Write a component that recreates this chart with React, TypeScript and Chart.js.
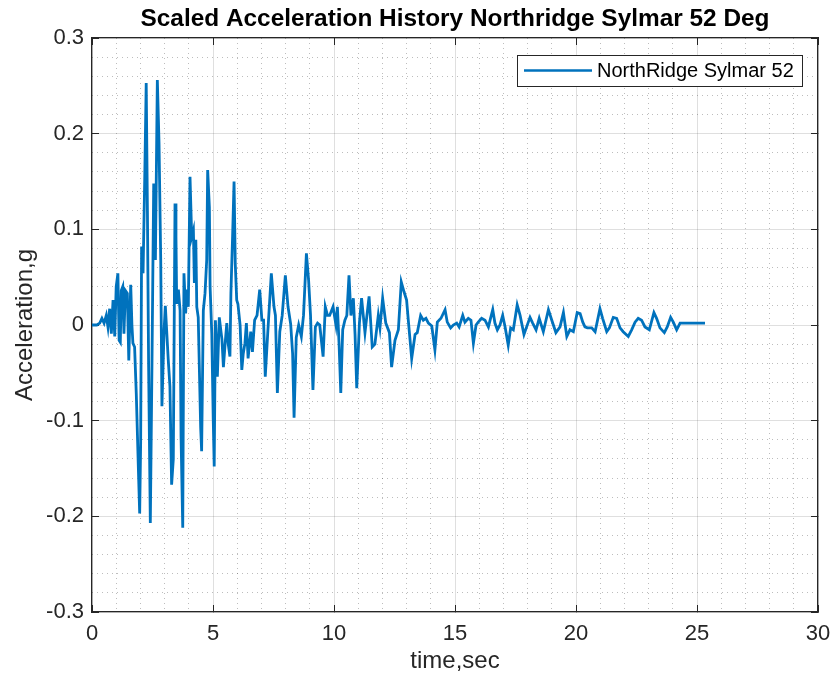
import React, { useEffect, useRef } from "react";
import { Chart, registerables } from "chart.js";

Chart.register(...registerables);

const FONT = "'Liberation Sans', Arial, Helvetica, sans-serif";
const LINE_COLOR = "#0072BD";
const AXIS_COLOR = "#262626";

const TITLE = "Scaled Acceleration History Northridge Sylmar 52 Deg";
const SERIES_LABEL = "NorthRidge Sylmar 52";
const X_LABEL = "time,sec";
const Y_LABEL = "Acceleration,g";

const X_MIN = 0;
const X_MAX = 30;
const X_MAJOR = 5;
const X_MINOR = 1;
const Y_MIN = -0.3;
const Y_MAX = 0.3;
const Y_MAJOR = 0.1;
const Y_MINOR = 0.02;

// time (s)
const TIMES = [
  0.0, 0.2, 0.32, 0.41, 0.5, 0.59, 0.66, 0.73, 0.8, 0.87, 0.94, 1.0, 1.07, 1.12, 1.17, 1.21, 1.27, 1.32, 1.38, 1.46,
  1.52, 1.6, 1.65, 1.69, 1.76, 1.83, 1.93, 1.97, 2.01, 2.05, 2.11, 2.18, 2.24, 2.29, 2.34, 2.41, 2.48, 2.55, 2.62, 2.7,
  2.77, 2.84, 2.89, 2.98, 3.03, 3.09, 3.15, 3.22, 3.29, 3.36, 3.43, 3.47, 3.5, 3.57, 3.64, 3.68, 3.75, 3.8, 3.87, 3.91,
  3.98, 4.05, 4.12, 4.19, 4.23, 4.29, 4.33, 4.39, 4.49, 4.53, 4.6, 4.67, 4.74, 4.78, 4.85, 4.88, 4.95, 5.01, 5.05, 5.1,
  5.15, 5.18, 5.26, 5.32, 5.37, 5.43, 5.5, 5.57, 5.63, 5.7, 5.74, 5.81, 5.87, 5.92, 5.98, 6.03, 6.12, 6.19, 6.25, 6.32,
  6.38, 6.45, 6.56, 6.63, 6.72, 6.82, 6.93, 7.02, 7.09, 7.16, 7.27, 7.41, 7.52, 7.58, 7.66, 7.76, 7.86, 7.99, 8.1, 8.21,
  8.29, 8.35, 8.44, 8.54, 8.65, 8.74, 8.86, 8.95, 9.03, 9.13, 9.23, 9.32, 9.41, 9.55, 9.64, 9.73, 9.82, 9.96, 10.08, 10.14,
  10.21, 10.28, 10.36, 10.45, 10.53, 10.62, 10.7, 10.8, 10.87, 10.94, 11.05, 11.14, 11.28, 11.45, 11.58, 11.69, 11.83, 11.9, 12.01, 12.14,
  12.29, 12.38, 12.52, 12.66, 12.78, 12.89, 13.0, 13.07, 13.21, 13.35, 13.44, 13.58, 13.69, 13.8, 13.9, 14.04, 14.17, 14.27, 14.42, 14.59,
  14.68, 14.82, 14.93, 15.07, 15.17, 15.32, 15.41, 15.55, 15.66, 15.76, 15.87, 15.96, 16.1, 16.24, 16.38, 16.56, 16.65, 16.75, 16.86, 16.97,
  17.07, 17.2, 17.3, 17.41, 17.57, 17.69, 17.85, 17.96, 18.1, 18.21, 18.35, 18.48, 18.65, 18.86, 19.0, 19.17, 19.34, 19.48, 19.62, 19.75,
  19.89, 20.05, 20.17, 20.28, 20.37, 20.47, 20.65, 20.79, 20.99, 21.1, 21.27, 21.38, 21.54, 21.68, 21.82, 21.95, 22.16, 22.3, 22.44, 22.57,
  22.71, 22.85, 23.03, 23.22, 23.33, 23.47, 23.65, 23.77, 23.91, 24.02, 24.16, 24.3, 24.5, 24.71, 25.33,
];

// acceleration (g)
const ACCEL = [
  0.0, 0.0, 0.002, 0.007, 0.002, 0.01, -0.002, 0.017, -0.009, 0.026, -0.012, 0.04, 0.054, -0.016, -0.018, 0.036, 0.04, -0.009, 0.036, 0.033,
  -0.037, 0.042, 0.0, -0.019, -0.023, -0.072, -0.162, -0.197, -0.124, 0.082, 0.054, 0.155, 0.253, 0.12, -0.044, -0.207, -0.036, 0.148, 0.068, 0.256,
  0.19, 0.068, -0.085, -0.005, 0.02, -0.008, -0.036, -0.064, -0.167, -0.14, 0.127, 0.092, 0.022, 0.037, 0.015, -0.117, -0.212, 0.054, 0.012, 0.037,
  0.019, 0.155, 0.092, 0.099, 0.044, 0.089, 0.019, 0.008, -0.107, -0.132, 0.015, 0.033, 0.068, 0.162, 0.123, 0.04, -0.009, -0.099, -0.148, 0.005,
  -0.03, -0.054, 0.008, -0.005, -0.015, -0.044, -0.02, 0.002, -0.02, -0.033, 0.033, 0.093, 0.15, 0.064, 0.026, 0.022, 0.0, -0.047, -0.03, -0.019,
  0.002, -0.035, -0.007, -0.028, 0.005, 0.01, 0.037, 0.005, 0.005, -0.054, -0.005, 0.054, 0.019, 0.01, -0.071, -0.007, 0.01, 0.052, 0.019, 0.001,
  -0.03, -0.097, -0.013, 0.0, -0.012, 0.01, 0.075, 0.047, 0.01, -0.068, -0.002, 0.002, 0.0, -0.033, 0.019, 0.01, 0.01, 0.019, 0.0, 0.019,
  -0.02, -0.071, -0.005, 0.005, 0.01, 0.052, 0.01, 0.028, -0.01, -0.066, 0.002, 0.028, -0.008, 0.03, -0.023, -0.02, 0.01, -0.003, 0.028, 0.002,
  -0.008, -0.044, -0.016, -0.005, 0.045, 0.035, 0.026, 0.005, -0.035, -0.01, -0.008, 0.01, 0.005, 0.007, 0.002, -0.001, -0.026, 0.003, 0.007, 0.016,
  0.003, -0.003, 0.0, 0.002, -0.002, 0.01, 0.003, 0.007, 0.005, -0.019, 0.0, 0.003, 0.007, 0.005, -0.002, 0.016, 0.002, -0.005, 0.0, 0.01,
  -0.002, -0.021, -0.003, -0.005, 0.021, 0.01, -0.01, -0.002, 0.008, 0.002, -0.005, 0.007, -0.007, 0.016, 0.005, -0.008, -0.002, 0.013, -0.012, -0.005,
  -0.007, 0.013, 0.012, 0.003, -0.002, -0.003, -0.003, -0.007, 0.017, 0.007, -0.007, -0.003, 0.008, 0.007, -0.003, -0.007, -0.012, -0.005, 0.003, 0.007,
  0.005, -0.002, -0.005, 0.013, 0.007, -0.003, -0.008, -0.002, 0.008, 0.003, -0.005, 0.002, 0.002, 0.002, 0.002,
];

const fmt = (v: number) => {
  const r = Math.round(v * 100) / 100;
  return String(r === 0 ? 0 : r);
};

const isMultiple = (v: number, step: number) => {
  const q = v / step;
  return Math.abs(q - Math.round(q)) < 1e-6;
};

const overlayPlugin = {
  id: "overlay",
  afterDraw(chart: any) {
    const { ctx, chartArea: ca } = chart;
    ctx.save();
    // title
    ctx.font = `bold 24.4px ${FONT}`;
    ctx.fillStyle = "#000";
    ctx.textAlign = "center";
    ctx.textBaseline = "middle";
    ctx.fillText(TITLE, (ca.left + ca.right) / 2, 19);

    // legend box
    const label = chart.data.datasets[0].label;
    ctx.font = `20px ${FONT}`;
    const tw = ctx.measureText(label).width;
    const h = 31;
    const w = Math.round(7 + 68 + 5 + tw + 8);
    const right = Math.round(ca.right - 16);
    const top = Math.round(ca.top + 17);
    const left = right - w;
    ctx.fillStyle = "#fff";
    ctx.fillRect(left, top, w, h);
    ctx.strokeStyle = AXIS_COLOR;
    ctx.lineWidth = 1;
    ctx.strokeRect(left + 0.5, top + 0.5, w, h);
    ctx.strokeStyle = LINE_COLOR;
    ctx.lineWidth = 2.5;
    ctx.beginPath();
    ctx.moveTo(left + 7, top + h / 2);
    ctx.lineTo(left + 75, top + h / 2);
    ctx.stroke();
    ctx.fillStyle = "#000";
    ctx.textAlign = "left";
    ctx.textBaseline = "middle";
    ctx.fillText(label, left + 80, top + h / 2 + 1);
    ctx.restore();
  },
};

export default function App() {
  const ref = useRef<HTMLCanvasElement | null>(null);

  useEffect(() => {
    if (!ref.current) return;
    Chart.defaults.font.family = FONT;
    const points = TIMES.map((t, i) => ({ x: t, y: ACCEL[i] }));
    const majorGrid = "rgba(38,38,38,0.15)";
    const minorGrid = "rgba(38,38,38,0.3)";

    const chart = new Chart(ref.current, {
      type: "line",
      data: {
        datasets: [
          {
            label: SERIES_LABEL,
            data: points,
            borderColor: LINE_COLOR,
            backgroundColor: LINE_COLOR,
            borderWidth: 2.8,
            pointRadius: 0,
            tension: 0,
            fill: false,
          },
        ],
      },
      plugins: [overlayPlugin],
      options: {
        animation: false,
        responsive: false,
        devicePixelRatio: 1,
        layout: { padding: { top: 38, right: 19, left: 0, bottom: 0 } },
        plugins: {
          legend: { display: false },
          title: { display: false },
          tooltip: { enabled: false },
        },
        scales: {
          x2: {
            type: "linear",
            position: "bottom",
            min: X_MIN,
            max: X_MAX,
            ticks: { display: false, stepSize: X_MINOR, autoSkip: false, maxTicksLimit: 200 },
            grid: {
              color: (c: any) => (c.tick && isMultiple(c.tick.value, X_MAJOR) ? "rgba(0,0,0,0)" : minorGrid),
              lineWidth: 1,
              drawTicks: false,
            },
            border: { display: false, dash: [1, 4] },
            afterFit: (s: any) => { s.height = 0; s.paddingLeft = 0; s.paddingRight = 0; },
          },
          y2: {
            type: "linear",
            position: "left",
            min: Y_MIN,
            max: Y_MAX,
            ticks: { display: false, stepSize: Y_MINOR, autoSkip: false, maxTicksLimit: 200 },
            grid: {
              color: (c: any) => (c.tick && isMultiple(c.tick.value, Y_MAJOR) ? "rgba(0,0,0,0)" : minorGrid),
              lineWidth: 1,
              drawTicks: false,
            },
            border: { display: false, dash: [1, 4] },
            afterFit: (s: any) => { s.width = 0; },
          },
          x: {
            type: "linear",
            position: "bottom",
            min: X_MIN,
            max: X_MAX,
            ticks: {
              stepSize: X_MAJOR,
              autoSkip: false,
              color: AXIS_COLOR,
              font: { size: 22, family: FONT },
              padding: 16,
              maxRotation: 0,
              callback: (v: any) => fmt(Number(v)),
            },
            grid: { color: majorGrid, lineWidth: 1, drawTicks: true, tickLength: -7, tickColor: AXIS_COLOR, tickWidth: 1 },
            border: { display: true, color: AXIS_COLOR, width: 1.3 },
            title: {
              display: true,
              text: X_LABEL,
              color: AXIS_COLOR,
              font: { size: 24, family: FONT },
              padding: { top: 0, bottom: 9 },
            },
            afterFit: (s: any) => { s.height = 73; s.paddingLeft = 0; s.paddingRight = 0; },
          },
          y: {
            type: "linear",
            position: "left",
            min: Y_MIN,
            max: Y_MAX,
            ticks: {
              stepSize: Y_MAJOR,
              autoSkip: false,
              color: AXIS_COLOR,
              font: { size: 22, family: FONT },
              padding: 15,
              callback: (v: any) => fmt(Number(v)),
            },
            grid: { color: majorGrid, lineWidth: 1, drawTicks: true, tickLength: -7, tickColor: AXIS_COLOR, tickWidth: 1 },
            border: { display: true, color: AXIS_COLOR, width: 1.3 },
            title: {
              display: true,
              text: Y_LABEL,
              color: AXIS_COLOR,
              font: { size: 24, family: FONT },
              padding: { top: 11, bottom: 0 },
            },
            afterFit: (s: any) => { s.width = 92; },
          },
          xTop: {
            type: "linear",
            position: "top",
            min: X_MIN,
            max: X_MAX,
            ticks: { display: false, stepSize: X_MAJOR, autoSkip: false },
            grid: { drawOnChartArea: false, drawTicks: true, tickLength: -7, tickColor: AXIS_COLOR, tickWidth: 1 },
            border: { display: true, color: AXIS_COLOR, width: 1.3 },
            afterFit: (s: any) => { s.height = 0; s.paddingLeft = 0; s.paddingRight = 0; },
          },
          yRight: {
            type: "linear",
            position: "right",
            min: Y_MIN,
            max: Y_MAX,
            ticks: { display: false, stepSize: Y_MAJOR, autoSkip: false },
            grid: { drawOnChartArea: false, drawTicks: true, tickLength: -7, tickColor: AXIS_COLOR, tickWidth: 1 },
            border: { display: true, color: AXIS_COLOR, width: 1.3 },
            afterFit: (s: any) => { s.width = 0; },
          },
        },
      } as any,
    });
    return () => chart.destroy();
  }, []);

  return (
    <div style={{ position: "fixed", left: 0, top: 0, width: 837, height: 685, background: "#fff" }}>
      <canvas ref={ref} width={837} height={685} style={{ display: "block", width: 837, height: 685 }} />
    </div>
  );
}
